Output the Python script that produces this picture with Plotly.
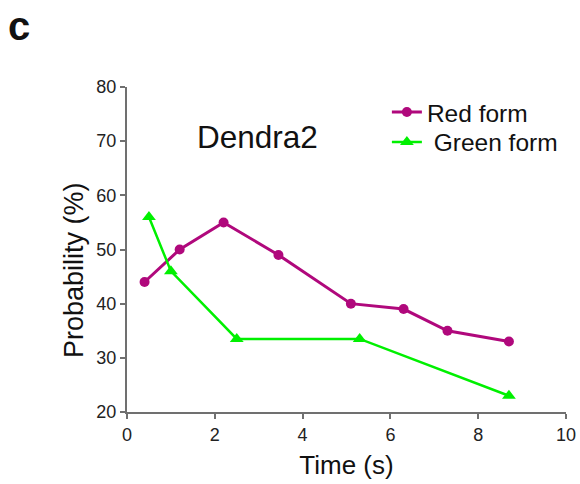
import plotly.graph_objects as go

red_x = [0.4, 1.2, 2.2, 3.45, 5.1, 6.3, 7.3, 8.7]
red_y = [44, 50, 55, 49, 40, 39, 35, 33]
green_x = [0.5, 1.0, 2.5, 5.3, 8.7]
green_y = [56, 46, 33.5, 33.5, 23]
x_ticks = [0, 2, 4, 6, 8, 10]
y_ticks = [20, 30, 40, 50, 60, 70, 80]

RED = "#B0087C"
GREEN = "#00F000"
FONT = "Liberation Sans, Arial, sans-serif"

fig = go.Figure()
fig.add_trace(go.Scatter(x=red_x, y=red_y, mode="lines+markers", name="Red form",
                         line=dict(color=RED, width=3),
                         marker=dict(color=RED, size=10, symbol="circle"),
                         legend="legend", showlegend=True))
fig.add_trace(go.Scatter(x=green_x, y=green_y, mode="lines+markers", name=" Green form",
                         line=dict(color=GREEN, width=2.5),
                         marker=dict(color=GREEN, size=12, symbol="triangle-up"),
                         legend="legend2", showlegend=True))

axis_common = dict(showgrid=False, zeroline=False, showline=True, linecolor="#707070",
                   linewidth=2, ticks="outside", ticklen=5, tickwidth=1.5, tickcolor="#707070",
                   automargin=False,
                   tickfont=dict(size=18, color="#222", family=FONT))
fig.update_xaxes(range=[0, 10], tickvals=x_ticks,
                 title=dict(text="Time (s)", font=dict(size=26, color="#111", family=FONT), standoff=12),
                 **axis_common)
fig.update_yaxes(range=[20, 80], tickvals=y_ticks, **axis_common)

fig.add_annotation(text="Probability (%)", x=-0.1207, y=0.437, xref="paper", yref="paper",
                   xanchor="center", yanchor="middle", textangle=-90,
                   showarrow=False, font=dict(size=27, color="#111", family=FONT))
fig.add_annotation(text="Dendra2", x=0.298, y=0.846, xref="paper", yref="paper",
                   xanchor="center", yanchor="middle",
                   showarrow=False, font=dict(size=31.5, color="#111", family=FONT))
fig.add_annotation(text="<b>c</b>", xref="paper", yref="paper", x=-0.245, y=1.188,
                   xanchor="center", yanchor="middle", showarrow=False,
                   font=dict(size=40, color="#111", family=FONT))

leg_common = dict(xanchor="left", yanchor="top", bgcolor="rgba(0,0,0,0)",
                  font=dict(size=24.5, color="#111", family=FONT), itemwidth=30)
fig.update_layout(
    width=580, height=484,
    margin=dict(l=127, r=14, t=87, b=72),
    plot_bgcolor="white", paper_bgcolor="white",
    font=dict(family=FONT),
    showlegend=True,
    legend=dict(x=0.592, y=0.992, **leg_common),
    legend2=dict(x=0.592, y=0.900, **leg_common),
)
fig.write_html("out.html", config={"displayModeBar": False},
               post_script="document.body.style.margin='0';document.documentElement.style.overflow='hidden';")
